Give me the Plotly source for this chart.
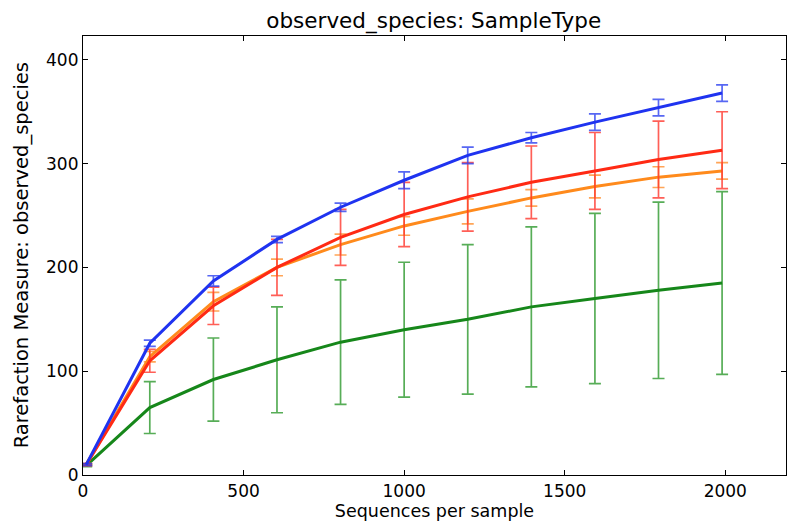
import plotly.graph_objects as go

x_seqs = [10, 208, 406, 604, 802, 1000, 1198, 1396, 1594, 1792, 1990]

green_vals = [9, 65, 92, 111, 128, 140, 150, 162, 170, 178, 185]
green_err = [1, 25, 40, 51, 60, 65, 72, 77, 82, 85, 88]
orange_vals = [10, 114, 167, 200, 222, 240, 254, 267, 278, 287, 293]
orange_err = [1, 5, 9, 8, 10, 9, 12, 8, 11, 10, 8]
red_vals = [10, 110, 163, 200, 229, 251, 268, 282, 293, 304, 313]
red_err = [1, 11, 18, 27, 27, 31, 33, 35, 37, 37, 37]
blue_vals = [10, 127, 187, 227, 258, 284, 308, 325, 340, 354, 368]
blue_err = [1, 3, 5, 3, 4, 8, 8, 5, 8, 8, 8]

x_ticks = [0, 500, 1000, 1500, 2000]
y_ticks = [0, 100, 200, 300, 400]

series = [
    ("green", green_vals, green_err, "#16871a", "rgba(40,150,40,0.78)"),
    ("orange", orange_vals, orange_err, "#ff8a1c", "rgba(255,140,40,0.78)"),
    ("red", red_vals, red_err, "#ff2a14", "rgba(255,50,40,0.78)"),
    ("blue", blue_vals, blue_err, "#1f33f0", "rgba(40,60,240,0.78)"),
]

fig = go.Figure()
for name, vals, err, col, ecol in series:
    fig.add_trace(go.Scatter(
        x=x_seqs, y=vals, mode="lines", name=name,
        line=dict(color=col, width=3),
        error_y=dict(type="data", array=err, visible=True,
                     color=ecol, thickness=1.7, width=6),
        showlegend=False,
    ))

font_family = "DejaVu Sans"
axis_common = dict(
    showline=True, linecolor="black", linewidth=1.2, mirror="ticks",
    ticks="inside", ticklen=5, tickwidth=1, tickcolor="black",
    showgrid=False, zeroline=False, automargin=False,
    tickfont=dict(family=font_family, size=17, color="black"),
)

# page body has an 8px margin, so the figure is sized to fit inside the window
fig.update_layout(
    width=784, height=514,
    margin=dict(l=75, r=6, t=28, b=47),
    paper_bgcolor="white", plot_bgcolor="white",
    title=dict(text="observed_species: SampleType", x=0.543, xanchor="center",
               y=0.99, yref="container", yanchor="top",
               font=dict(family=font_family, size=21.5, color="black")),
    xaxis=dict(range=[0, 2189], tickvals=x_ticks,
               title=dict(text="Sequences per sample", standoff=2,
                          font=dict(family=font_family, size=17.5, color="black")),
               **axis_common),
    yaxis=dict(range=[0, 423], tickvals=y_ticks, **axis_common),
    annotations=[dict(
        text="Rarefaction Measure: observed_species", textangle=-90,
        xref="paper", yref="paper", x=-0.087, y=0.5,
        xanchor="center", yanchor="middle", showarrow=False,
        font=dict(family=font_family, size=19.5, color="black"),
    )],
)

fig.write_html("out.html")
